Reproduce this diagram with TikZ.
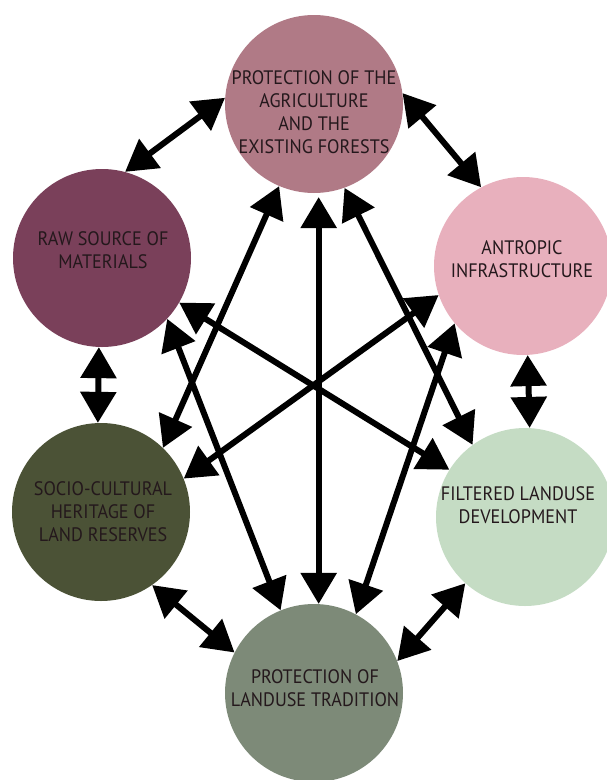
\documentclass[tikz,border=0pt]{standalone}
\usepackage{fontspec}
\setmainfont{PT Sans}[FakeStretch=0.93]
\usetikzlibrary{arrows.meta}
\definecolor{cT}{RGB}{176,122,134}
\definecolor{cLa}{RGB}{122,64,90}
\definecolor{cRa}{RGB}{232,176,189}
\definecolor{cLb}{RGB}{75,82,54}
\definecolor{cRb}{RGB}{197,220,196}
\definecolor{cB}{RGB}{125,138,120}
\definecolor{txt}{RGB}{36,24,28}
\begin{document}
\begin{tikzpicture}[x=1pt,y=-1pt,
  disc/.style={circle,minimum size=178pt,inner sep=0pt,draw=none},
  lbl/.style={align=center,text=txt,font=\fontsize{19.5}{23}\selectfont,inner sep=0pt},
  link/.style={line width=6pt,{Triangle[length=31pt,width=35pt]}-{Triangle[length=31pt,width=35pt]}}]
\useasboundingbox (0,0) rectangle (606,780);
\node[disc,fill=cT]  (T)  at (314,104) {};
\node[disc,fill=cLa] (L1) at (102,258) {};
\node[disc,fill=cRa] (R1) at (523,266) {};
\node[disc,fill=cLb] (L2) at (101,512) {};
\node[disc,fill=cRb] (R2) at (525,517) {};
\node[disc,fill=cB]  (B)  at (314,693) {};
\node[lbl] (tT)  at (314,112) {PROTECTION OF THE\\AGRICULTURE\\AND THE\\EXISTING FORESTS};
\node[lbl] (tL1) at (103,250) {RAW SOURCE OF\\MATERIALS};
\node[lbl] (tR1) at (522,259) {ANTROPIC\\INFRASTRUCTURE};
\node[lbl] (tL2) at (103,512) {SOCIO-CULTURAL\\HERITAGE OF\\LAND RESERVES};
\node[lbl] (tR2) at (518,505) {FILTERED LANDUSE\\DEVELOPMENT};
\node[lbl] (tB)  at (315,688) {PROTECTION OF\\LANDUSE TRADITION};
% outer ring
\draw[link] (T.176) -- (L1.75);
\draw[link] (T.7) -- (R1.118);
\draw[link] (L1.-92) -- (L2.92);
\draw[link] (R1.-87) -- (R2.87);
\draw[link] (L2.-55.6) -- (B.153);
\draw[link] (R2.-132) -- (B.21);
% inner links
\draw[link] (T.-113) -- (L2.46);
\draw[link,shorten <=4pt] (T.-87.4) -- (B.87.4);
\draw[link] (T.-70) -- (R2.126.6);
\draw[link] (L1.-30) -- (R2.148);
\draw[link] (L1.-43) -- (B.112);
\draw[link] (R1.199) -- (L2.22.6);
\draw[link] (R1.220) -- (B.62);
\end{tikzpicture}
\end{document}
